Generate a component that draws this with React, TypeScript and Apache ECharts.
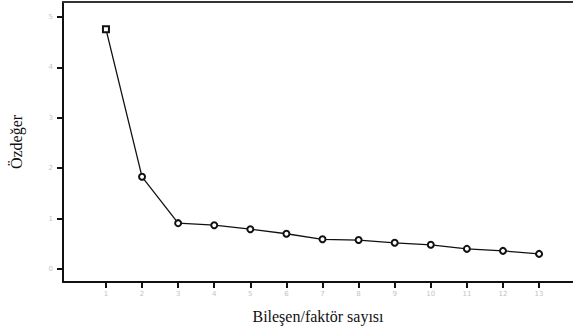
import React, { useEffect, useRef } from "react";
import * as echarts from "echarts";

const components = [1, 2, 3, 4, 5, 6, 7, 8, 9, 10, 11, 12, 13];
const eigenvalues = [4.76, 1.83, 0.91, 0.87, 0.79, 0.7, 0.59, 0.575, 0.52, 0.48, 0.4, 0.36, 0.3];
const yTicks = [0, 1, 2, 3, 4, 5];
const xTitle = "Bileşen/faktör sayısı";
const yTitle = "Özdeğer";

export default function App() {
  const ref = useRef<HTMLDivElement>(null);
  useEffect(() => {
    if (!ref.current) return;
    const chart = echarts.init(ref.current, null, { renderer: "svg" });
    const data = components.map((c, i) => ({
      value: [c, eigenvalues[i]],
      symbol: i === 0 ? "emptyRect" : "emptyCircle",
    }));
    chart.setOption({
      animation: false,
      backgroundColor: "#ffffff",
      grid: { left: 63, top: 2, right: 0, bottom: 49, containLabel: false },
      xAxis: [
        {
          type: "value",
          min: -0.19,
          max: 13.94,
          name: xTitle,
          nameLocation: "middle",
          nameGap: 26,
          nameTextStyle: { fontFamily: "Liberation Serif", fontSize: 16, color: "#111" },
          axisLine: { show: true, onZero: false, lineStyle: { color: "#111", width: 2 } },
          axisTick: { show: true, length: 6, customValues: components, lineStyle: { color: "#111", width: 2 } },
          axisLabel: { show: true, customValues: components, fontSize: 7, color: "#c4c4c4", margin: 8, fontFamily: "DejaVu Sans" },
          splitLine: { show: false },
        },
        {
          type: "value",
          position: "top",
          min: -0.19,
          max: 13.94,
          axisLine: { show: true, onZero: false, lineStyle: { color: "#333", width: 2 } },
          axisTick: { show: false },
          axisLabel: { show: false },
          splitLine: { show: false },
        },
      ],
      yAxis: {
        type: "value",
        min: -0.258,
        max: 5.3,
        name: yTitle,
        nameLocation: "middle",
        nameGap: 39,
        nameRotate: 90,
        nameTextStyle: { fontFamily: "Liberation Serif", fontSize: 16, color: "#111" },
        axisLine: { show: true, onZero: false, lineStyle: { color: "#111", width: 2 } },
        axisTick: { show: true, length: 6, customValues: yTicks, lineStyle: { color: "#111", width: 2 } },
        axisLabel: { show: true, customValues: yTicks, fontSize: 7, color: "#c4c4c4", margin: 10, fontFamily: "DejaVu Sans" },
        splitLine: { show: false },
      },
      series: [
        {
          type: "line",
          data,
          symbolSize: 6,
          showAllSymbol: true,
          lineStyle: { color: "#111", width: 1.3 },
          itemStyle: { color: "#111", borderColor: "#111", borderWidth: 1.3 },
        },
      ],
    });
    return () => chart.dispose();
  }, []);
  return <div ref={ref} style={{ width: 573, height: 331, position: "absolute", left: 0, top: 0 }} />;
}
